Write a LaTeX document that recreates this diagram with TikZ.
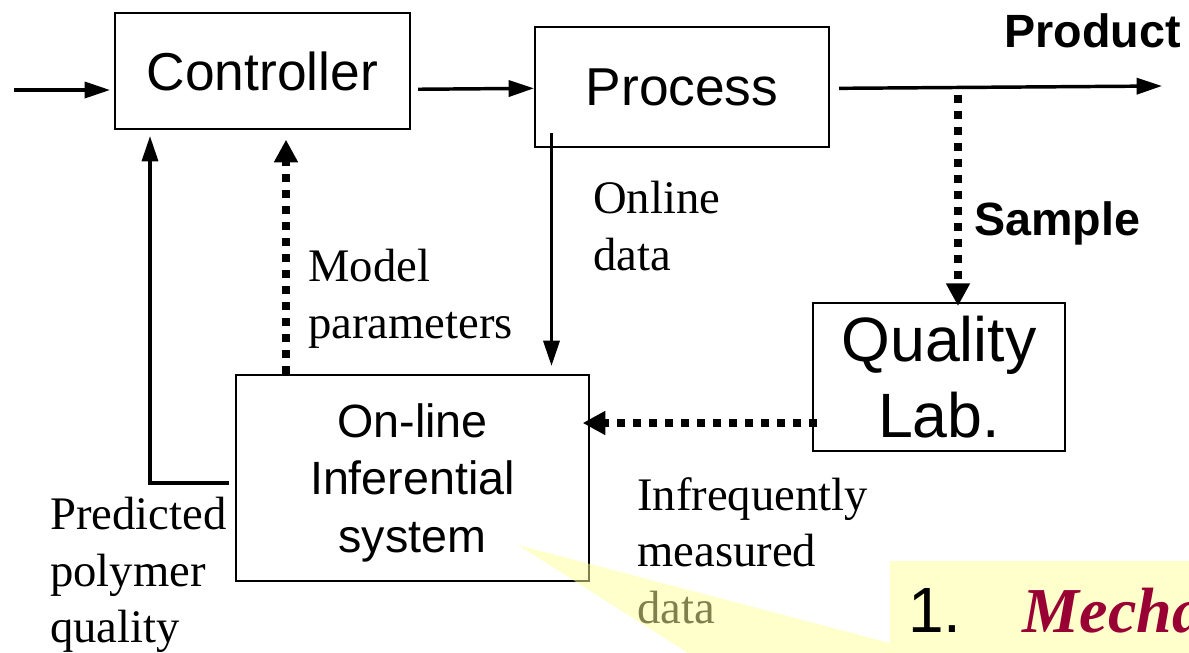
\documentclass[tikz,border=0pt]{standalone}
\usepackage{fontspec}
\setmainfont{Liberation Serif}
\setsansfont{Liberation Sans}
\usetikzlibrary{arrows.meta}
\definecolor{calloutyellow}{RGB}{255,255,153}
\definecolor{mechred}{RGB}{153,0,51}

\begin{document}
\begin{tikzpicture}[x=0.75pt,y=0.75pt,yscale=-1,xscale=1,
  blk/.style={draw,line width=1.5pt,inner sep=0pt,align=center},
  solidarr/.style={line width=2.6pt,-{Triangle[length=19pt,width=12pt]}},
  dotarr/.style={line width=6pt,dash pattern=on 6pt off 6pt,-{Triangle[length=17pt,width=17pt]}},
  lbl/.style={inner sep=0pt,align=left,font=\fontsize{35}{42.5}\selectfont},
  boldlbl/.style={inner sep=0pt,font=\sffamily\bfseries\fontsize{35}{42}\selectfont}]
\useasboundingbox (0,0) rectangle (1189,653);

% Blocks
\node[blk,minimum width=220.9pt,minimum height=87.5pt,font=\sffamily\fontsize{40}{48}\selectfont] (ctrl) at (262.3,71) {Controller};
\node[blk,minimum width=220.5pt,minimum height=89.5pt,font=\sffamily\fontsize{40}{48}\selectfont] (proc) at (682,87) {Process};
\node[blk,minimum width=189pt,minimum height=111pt,font=\sffamily\fontsize{47}{57}\selectfont] (qlab) at (939,377) {Quality\\Lab.};
\node[blk,minimum width=264.75pt,minimum height=154.5pt,font=\sffamily\fontsize{35}{43}\selectfont] (infer) at (412.5,478) {On-line\\Inferential\\\smash{system}};

% Free ends
\coordinate (inp) at (14,90);
\coordinate (prod) at (1162,86);
\coordinate (smp) at (958,95);
\coordinate (qd) at (817,423);
\coordinate (od) at (551.5,133);
\coordinate (mp) at (286,0);
\coordinate (pq) at (150,483);

% Connectors
\draw[solidarr] (inp) -- ([xshift=-3pt]inp -| ctrl.west);
\draw[solidarr] ([xshift=5.6pt,yshift=13.7pt]ctrl.east) -- ([yshift=1pt]proc.west);
\draw[solidarr] ([xshift=6.75pt,yshift=1pt]proc.east) -- (prod);
\draw[dotarr] (smp) -- ([yshift=3pt]smp |- qlab.north);
\draw[dotarr] (qd) -- ([xshift=-5.5pt]qd -| infer.east);
\draw[solidarr] (od) -- ([yshift=-6pt]od |- infer.north);
\draw[dotarr] (mp |- infer.north) -- ([yshift=7pt]mp |- ctrl.south);
\draw[solidarr] ([xshift=-4.5pt]infer.west |- pq) -- (pq) -- ([yshift=4.25pt]pq |- ctrl.south);

% Labels
\node[boldlbl,anchor=base east] (prodlbl) at (1181,47) {Product};
\node[boldlbl,anchor=base west] (smplbl) at (974,235) {Sample};
\node[lbl,anchor=north west] (odlbl) at (593,181) {Online\\data};
\node[lbl,anchor=north west] (mplbl) at (308,249) {Model\\parameters};
\node[lbl,anchor=north west] (pqlbl) at (50,497) {Predicted\\polymer\\quality};
\node[lbl,anchor=north west] (imlbl) at (637,477) {Infrequently\\measured\\data};

% Callout
\fill[calloutyellow,fill opacity=0.5] (518,545) -- (890,643) -- (890,561) -- (1189,561) -- (1189,653) -- (688,653) -- cycle;
\node[inner sep=0pt,anchor=base west] (mech) at (908,632) {\sffamily\fontsize{48}{56}\selectfont 1.\hspace{46pt}\rmfamily\bfseries\itshape\color{mechred}Mecha};

\end{tikzpicture}
\end{document}
